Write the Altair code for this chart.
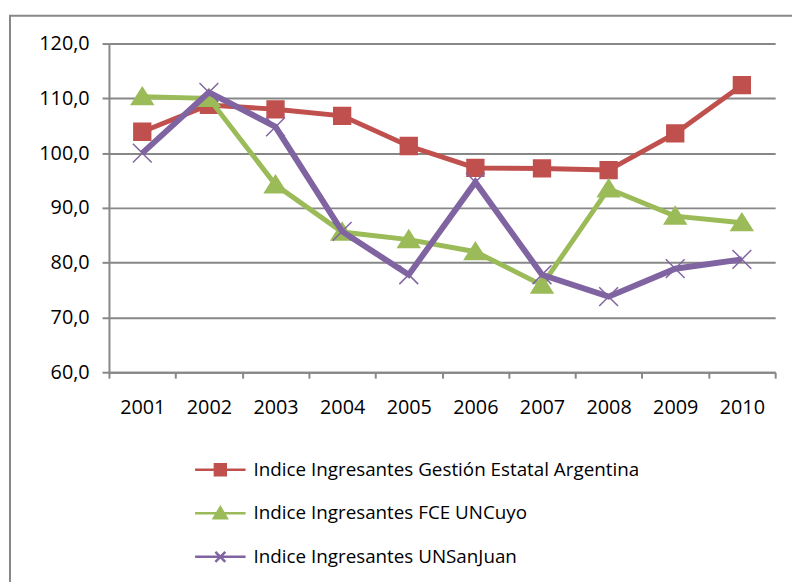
import altair as alt
import pandas as pd

years = ["2001", "2002", "2003", "2004", "2005", "2006", "2007", "2008", "2009", "2010"]
series_names = [
    "Indice Ingresantes Gestión Estatal Argentina",
    "Indice Ingresantes FCE UNCuyo",
    "Indice Ingresantes UNSanJuan",
]
gestion = [103.9, 108.8, 108.0, 106.8, 101.3, 97.3, 97.2, 96.9, 103.6, 112.4]
fce = [110.3, 110.0, 94.2, 85.6, 84.2, 82.0, 75.9, 93.5, 88.5, 87.3]
unsj = [100.0, 111.1, 104.8, 85.7, 77.8, 94.7, 77.8, 73.8, 78.9, 80.6]
y_ticks = [60, 70, 80, 90, 100, 110, 120]

colors = ["#C0504D", "#9BBB59", "#8064A2"]
marker_paths = [
    "M-0.85,-0.85H0.85V0.85H-0.85Z",
    "M0,-0.95L1.1,0.8L-1.1,0.8Z",
    "M-0.95,-0.95L0.95,0.95M0.95,-0.95L-0.95,0.95",
]
legend_paths = [
    "M-2.55,0H2.55M-0.55,-0.55H0.55V0.55H-0.55Z",
    "M-2.55,0H2.55M0,-0.6L0.65,0.5L-0.65,0.5Z",
    "M-2.55,0H2.55M-0.5,-0.5L0.5,0.5M0.5,-0.5L-0.5,0.5",
]

rows = []
for name, vals in zip(series_names, [gestion, fce, unsj]):
    for yr, v in zip(years, vals):
        rows.append({"year": yr, "series": name, "value": v})
df = pd.DataFrame(rows)

FONT = "Open Sans"
GRAY = "#878787"

x_enc = alt.X(
    "year:O",
    scale=alt.Scale(type="band", paddingInner=0, paddingOuter=0, domain=years),
    bandPosition=0.5,
    axis=alt.Axis(
        title=None, labelAngle=0, tickBand="extent", grid=False,
        tickSize=6, labelPadding=20, domainColor=GRAY, tickColor=GRAY,
        domainWidth=2, tickWidth=2,
    ),
)
y_enc = alt.Y(
    "value:Q",
    scale=alt.Scale(domain=[60, 120], nice=False, zero=False),
    axis=alt.Axis(
        title=None, values=y_ticks, grid=True, gridColor=GRAY, gridWidth=2,
        labelExpr="replace(format(datum.value, '.1f'), '.', ',')",
        tickSize=7, labelPadding=13, domainColor=GRAY, tickColor=GRAY,
        domainWidth=2, tickWidth=2,
    ),
)

layers = []
# outer chart frame (decoration)
frame = alt.Chart(alt.Data(values=[{}])).mark_rect(
    fill=None, fillOpacity=0, stroke=GRAY, strokeWidth=2
).encode(
    x=alt.value(-100), x2=alt.value(700), y=alt.value(-28), y2=alt.value(560)
)
layers.append(frame)

for i, name in enumerate(series_names):
    base = alt.Chart(df).transform_filter(alt.datum.series == name)
    line = base.mark_line(color=colors[i], strokeWidth=5 if i < 2 else 6).encode(x=x_enc, y=y_enc)
    pts = base.mark_point(
        shape=marker_paths[i], size=400, filled=(i < 2), fill=colors[i] if i < 2 else None,
        stroke=colors[i], strokeWidth=1.5, opacity=1,
    ).encode(x=x_enc, y=y_enc)
    layers += [line, pts]

leg = alt.Legend(
    title=None, orient="none", legendX=101, legendY=419, direction="vertical",
    symbolSize=400, symbolStrokeWidth=2.5, symbolOpacity=1,
    labelOffset=22, rowPadding=22, labelFont=FONT, labelFontSize=19,
    labelColor="black", labelLimit=700, padding=0,
)
legend_layer = alt.Chart(df).transform_filter("false").mark_point(
    strokeWidth=2.5, opacity=1
).encode(
    fill=alt.Fill("series:N", scale=alt.Scale(domain=series_names, range=colors), legend=leg),
    stroke=alt.Stroke("series:N", scale=alt.Scale(domain=series_names, range=colors), legend=leg),
    shape=alt.Shape("series:N", scale=alt.Scale(domain=series_names, range=legend_paths), legend=leg),
)
layers.append(legend_layer)

chart = alt.layer(*layers).properties(
    width=673, height=332,
    autosize=alt.AutoSizeParams(type="none"),
    padding={"left": 102, "top": 33, "right": 17, "bottom": 209},
).configure_view(stroke=None).configure_axis(
    labelFont=FONT, labelFontSize=20, labelColor="black"
)

chart.save("out.html", embed_options={"renderer": "svg", "actions": False})
